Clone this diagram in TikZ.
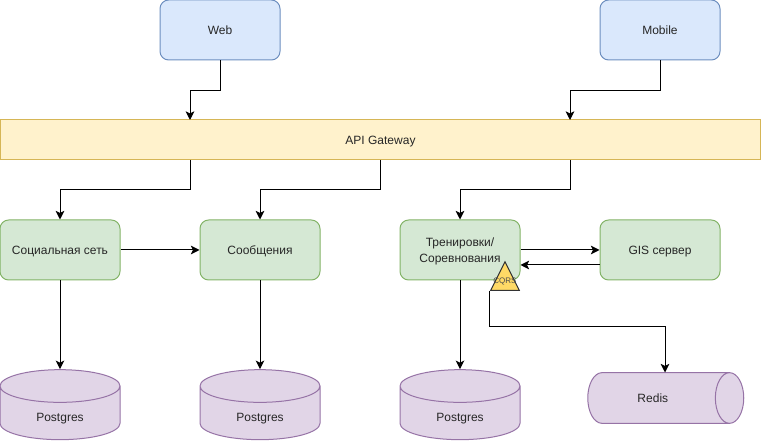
\documentclass[tikz,border=0pt]{standalone}
\usepackage{fontspec}
\setmainfont{Liberation Sans}
\usetikzlibrary{shapes.geometric,arrows.meta}
\definecolor{clientfill}{HTML}{DAE8FC}
\definecolor{clientline}{HTML}{6C8EBF}
\definecolor{gatefill}{HTML}{FFF2CC}
\definecolor{gateline}{HTML}{D6B656}
\definecolor{servfill}{HTML}{D5E8D4}
\definecolor{servline}{HTML}{82B366}
\definecolor{storefill}{HTML}{E1D5E7}
\definecolor{storeline}{HTML}{9673A6}
\definecolor{cqrsfill}{HTML}{FFD966}
\tikzset{
    every node/.style={font=\fontsize{9}{12}\selectfont,align=center,text=black!85,line width=0.75pt,text depth=0pt},
    box/.style={rectangle,draw,rounded corners=6.5pt,minimum width=90pt,minimum height=45pt,inner sep=0pt},
    clientbox/.style={box,draw=clientline,fill=clientfill},
    servbox/.style={box,draw=servline,fill=servfill},
    gatebox/.style={rectangle,draw=gateline,fill=gatefill,minimum width=570pt,minimum height=30pt,inner sep=0pt},
    dbbox/.style={cylinder,shape border rotate=90,shape aspect=0.28,draw=storeline,fill=storefill,minimum width=90pt,minimum height=52.5pt,inner xsep=26pt,inner ysep=5pt,text height=6.5pt},
    cachebox/.style={cylinder,shape aspect=0.6,draw=storeline,fill=storefill,minimum width=38pt,minimum height=116pt,inner xsep=35pt,inner ysep=14.5pt},
    conn/.style={draw=black,line width=0.75pt,-{Stealth[length=6.5pt,width=6.5pt,inset=1.6pt]}},
}
\begin{document}
\begin{tikzpicture}[x=0.75pt,y=-0.75pt]
    \useasboundingbox (0,0) rectangle (761,441);
    \node[clientbox] (web) at (220,30) {Web};
    \node[clientbox] (mobile) at (660,30) {Mobile};
    \node[gatebox] (gateway) at (380.5,140) {API Gateway};
    \node[servbox] (social) at (60,250) {Социальная сеть};
    \node[servbox] (messages) at (260,250) {Сообщения};
    \node[servbox] (training) at (460,250) {Тренировки/\\Соревнования};
    \node[servbox] (gis) at (660,250) {GIS сервер};
    \foreach \n/\x in {db1/60,db2/260,db3/460}
        \node[dbbox] (\n) at (\x,420.5) {\raisebox{2.6pt}{Postgres}};
    \node[cachebox] (redis) at (651.5,398) {\hspace{2pt}Redis};
    \node[isosceles triangle,isosceles triangle stretches,shape border rotate=90,draw=black!80,fill=cqrsfill,minimum width=21.5pt,minimum height=21.5pt,inner sep=0pt,anchor=apex] (cqrs) at (505,260.5) {};
    \node[font=\fontsize{6}{6}\selectfont,text=black!70] (cqrstext) at (505,281) {CQRS};
    % points on the long gateway box and on the side of the redis tube
    \coordinate (webin) at (190,120);
    \coordinate (mobilein) at (570,120);
    \coordinate (socialout) at (190,160);
    \coordinate (messagesout) at (380,160);
    \coordinate (trainingout) at (570,160);
    \coordinate (redisin) at (665,372.5);
    \draw[conn] (web.south) -- ++(0,30) -| (webin);
    \draw[conn] (mobile.south) -- ++(0,30) -| (mobilein);
    \draw[conn] (socialout) -- ++(0,30) -| (social.north);
    \draw[conn] (messagesout) -- ++(0,30) -| (messages.north);
    \draw[conn] (trainingout) -- ++(0,30) -| (training.north);
    \draw[conn] (social.east) -- (messages.west);
    \draw[conn] (training.east) -- (gis.west);
    \draw[conn] ([yshift=-11.25pt]gis.west) -- ([yshift=-11.25pt]training.east);
    \foreach \a/\b in {social/db1,messages/db2,training/db3}
        \draw[conn] (\a.south) -- (\b.north -| \a.south);
    \draw[conn] (cqrs.left corner) -- ++(0,36) -| (redisin);
\end{tikzpicture}
\end{document}
